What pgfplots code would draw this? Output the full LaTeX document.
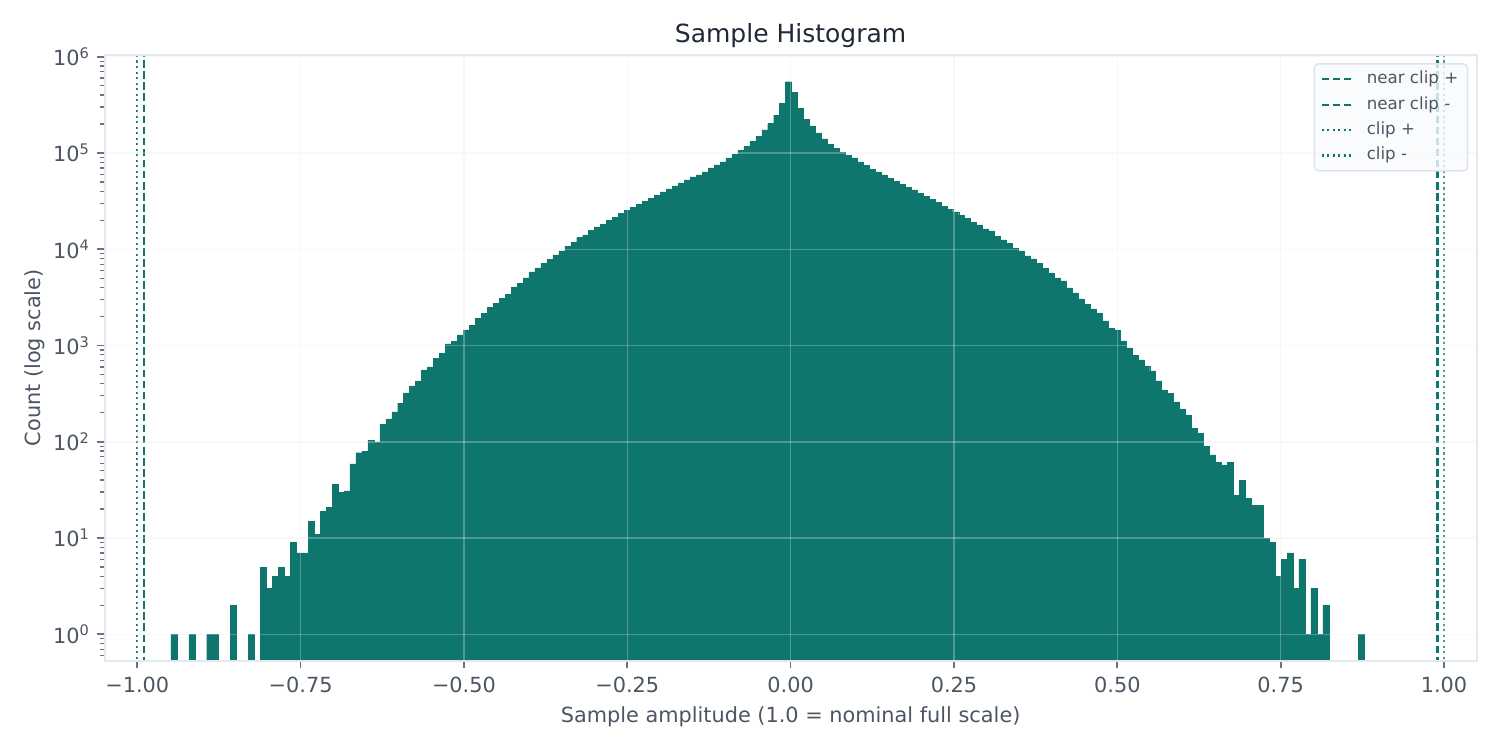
\documentclass[border=0pt]{standalone}
\usepackage{pgfplots}
\usepackage{pgfplotstable}
\pgfplotsset{compat=1.18}
\usepackage{fontspec}
\setmainfont{DejaVu Sans}
\definecolor{barc}{HTML}{0F766E}
\definecolor{titlec}{HTML}{1F2937}
\definecolor{labelc}{HTML}{4B5563}
\definecolor{spinec}{HTML}{E2E8F0}
\definecolor{tickc}{HTML}{6B7280}
\definecolor{gridc}{HTML}{E5E7EB}
\definecolor{legfill}{HTML}{F8FAFC}
\definecolor{legdraw}{HTML}{DDE3EA}

\pgfplotstableread{
x count
-0.9439 1
-0.9165 1
-0.8891 1
-0.8800 1
-0.8526 2
-0.8252 1
-0.8069 5
-0.7978 3
-0.7886 4
-0.7795 5
-0.7704 4
-0.7612 9
-0.7521 7
-0.7430 7
-0.7338 15
-0.7247 11
-0.7156 19
-0.7064 21
-0.6973 36
-0.6882 30
-0.6790 31
-0.6699 59
-0.6608 77
-0.6516 80
-0.6425 103
-0.6334 100
-0.6242 153
-0.6151 173
-0.6059 205
-0.5968 252
-0.5877 322
-0.5785 381
-0.5694 429
-0.5603 558
-0.5511 599
-0.5420 742
-0.5329 835
-0.5237 1040
-0.5146 1100
-0.5055 1290
-0.4963 1450
-0.4872 1630
-0.4781 1930
-0.4689 2170
-0.4598 2510
-0.4507 2760
-0.4415 3100
-0.4324 3430
-0.4233 4060
-0.4141 4460
-0.4050 5040
-0.3959 5830
-0.3867 6420
-0.3776 7090
-0.3685 7830
-0.3593 8750
-0.3502 9630
-0.3410 10800
-0.3319 11700
-0.3228 13200
-0.3136 14100
-0.3045 15600
-0.2954 17100
-0.2862 18300
-0.2771 20100
-0.2680 21600
-0.2588 23700
-0.2497 25500
-0.2406 27400
-0.2314 29500
-0.2223 31700
-0.2132 34000
-0.2040 36600
-0.1949 39400
-0.1858 42300
-0.1766 45500
-0.1675 48900
-0.1584 52600
-0.1492 56600
-0.1401 59300
-0.1310 63700
-0.1218 69900
-0.1127 75200
-0.1035 80900
-0.0944 88800
-0.0853 97600
-0.0761 107000
-0.0670 118000
-0.0579 133000
-0.0487 150000
-0.0396 174000
-0.0305 202000
-0.0213 248000
-0.0122 330000
-0.0031 550000
0.0060 430000
0.0152 293000
0.0243 225000
0.0334 191000
0.0426 162000
0.0517 140000
0.0608 124000
0.0700 112000
0.0791 102000
0.0882 95000
0.0974 88800
0.1065 80900
0.1157 75000
0.1248 68000
0.1339 63700
0.1431 59300
0.1522 55000
0.1613 51000
0.1705 47400
0.1796 44000
0.1887 41300
0.1979 38400
0.2070 35700
0.2161 33200
0.2253 30900
0.2344 28100
0.2435 26200
0.2527 24400
0.2618 22700
0.2709 21100
0.2801 19200
0.2892 17900
0.2984 16300
0.3075 15500
0.3166 13700
0.3258 12500
0.3349 11600
0.3440 10300
0.3532 9600
0.3623 8550
0.3714 7970
0.3806 7100
0.3897 6330
0.3988 5690
0.4080 5040
0.4171 4700
0.4263 3980
0.4354 3520
0.4445 3050
0.4537 2700
0.4628 2400
0.4719 2180
0.4811 1800
0.4902 1520
0.4993 1450
0.5085 1117
0.5176 944
0.5267 797
0.5359 710
0.5450 614
0.5541 545
0.5633 429
0.5724 347
0.5815 316
0.5907 260
0.5998 220
0.6090 190
0.6181 139
0.6272 123
0.6364 90
0.6455 73
0.6546 61
0.6638 57
0.6729 61
0.6820 28
0.6912 40
0.7003 26
0.7094 22
0.7186 22
0.7277 10
0.7368 9
0.7460 4
0.7551 6
0.7643 7
0.7734 3
0.7825 6
0.7917 1
0.8008 3
0.8099 1
0.8191 2
0.8739 1
}\histdata

\begin{document}
\begin{tikzpicture}
\begin{axis}[
  at={(50.2pt,42.72pt)}, anchor=south west,
  scale only axis, width=658.6pt, height=291pt,
  xmin=-1.05, xmax=1.05,
  ymode=log, ymin=0.528, ymax=1.049e6, log origin y=infty,
  xtick={-1,-0.75,-0.5,-0.25,0,0.25,0.5,0.75,1},
  xticklabels={−1.00,−0.75,−0.50,−0.25,0.00,0.25,0.50,0.75,1.00},
  ytick={1,10,100,1000,10000,100000,1000000},
  yticklabels={10\textsuperscript{0},10\textsuperscript{1},10\textsuperscript{2},10\textsuperscript{3},10\textsuperscript{4},10\textsuperscript{5},10\textsuperscript{6}},
  minor ytick={0.6,0.7,0.8,0.9,2,3,4,5,6,7,8,9,20,30,40,50,60,70,80,90,200,300,400,500,600,700,800,900,2000,3000,4000,5000,6000,7000,8000,9000,20000,30000,40000,50000,60000,70000,80000,90000,200000,300000,400000,500000,600000,700000,800000,900000},
  tick align=outside, tick pos=left,
  major tick length=3.5pt, minor tick length=2pt,
  major tick style={tickc, line width=0.8pt},
  minor tick style={tickc, line width=0.6pt},
  axis line style={spinec, line width=1pt},
  xmajorgrids, ymajorgrids,
  major grid style={gridc, opacity=0.3, line width=0.7pt},
  axis on top,
  tick label style={labelc, font=\fontsize{10}{12}\selectfont},
  xticklabel style={anchor=base, yshift=-11.7pt},
  every axis title shift=0pt,
  title={Sample Histogram},
  title style={at={(axis description cs:0.5,1.0199)}, anchor=base, titlec, font=\fontsize{12}{14.4}\selectfont},
  xlabel={Sample amplitude (1.0 = nominal full scale)},
  xlabel style={at={(axis description cs:0.5,-0.1007)}, anchor=base, labelc, font=\fontsize{10}{12}\selectfont},
  ylabel={Count (log scale)},
  ylabel style={at={(axis description cs:-0.0466,0.5)}, anchor=base, labelc, font=\fontsize{10}{12}\selectfont},
  legend cell align=left,
  legend image code/.code={\draw[#1] (0pt,0pt) -- (14.7pt,0pt);},
  legend style={at={(axis description cs:1,1)}, anchor=north east, xshift=-4pt, yshift=-4pt,
    fill=legfill, fill opacity=0.8, text opacity=1, draw=legdraw, draw opacity=1,
    rounded corners=2pt, line width=0.7pt, font=\fontsize{8}{9.6}\selectfont, text=labelc,
    inner xsep=3pt, inner ysep=2pt, row sep=1.4pt,
    /tikz/every odd column/.append style={column sep=5pt},
    nodes={inner sep=1.5pt, text height=6pt, text depth=1.8pt}},
]
\addplot[ybar, bar width=0.009135, fill=barc, draw=barc, line width=0.2pt, forget plot] table[x=x,y=count]{\histdata};
\addplot[barc, line width=1pt, dash pattern=on 3.7pt off 1.6pt] coordinates {(0.99,0.1) (0.99,1e7)};
\addlegendentry{near clip +}
\addplot[barc, line width=1pt, dash pattern=on 3.7pt off 1.6pt] coordinates {(-0.99,0.1) (-0.99,1e7)};
\addlegendentry{near clip -}
\addplot[barc, line width=1pt, dash pattern=on 1pt off 1.65pt] coordinates {(1,0.1) (1,1e7)};
\addlegendentry{clip +}
\addplot[barc, line width=1pt, dash pattern=on 1pt off 1.65pt] coordinates {(-1,0.1) (-1,1e7)};
\addlegendentry{clip -}
\end{axis}
\pgfresetboundingbox
\path[use as bounding box] (0,0) rectangle (720pt,360pt);
\end{tikzpicture}
\end{document}
